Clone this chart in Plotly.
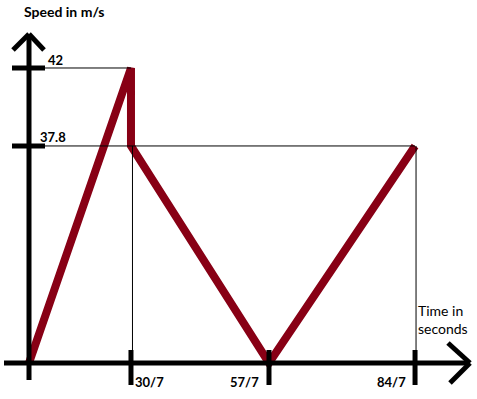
import plotly.graph_objects as go

# ---- data (positions as drawn in the sketch, labels as written) ----
time_pos = [0, 3.17, 3.17, 7.46, 12.0]
speed_pos = [0, 42.0, 30.9, 0, 30.9]
time_tick_pos = [3.17, 7.46, 12.0]
time_tick_labels = ["30/7", "57/7", "84/7"]
speed_tick_pos = [42.0, 30.9]
speed_tick_labels = ["42", "37.8"]

W, H = 477, 399
X0PX, XSC = 29, 32.17      # pixel of x=0, px per unit
Y0PX, YSC = 363, 7.024     # pixel of y=0, px per unit
xr = [(0 - X0PX) / XSC, (W - X0PX) / XSC]
yr = [(Y0PX - H) / YSC, (Y0PX - 0) / YSC]

def dx(px):
    return (px - X0PX) / XSC

def dy(py):
    return (Y0PX - py) / YSC

def pxx(x):
    return X0PX + x * XSC

def pxy(y):
    return Y0PX - y * YSC

fig = go.Figure()
shapes = []
blk = dict(color="black", width=5)
thin = dict(color="black", width=1)

# thin guide lines
peak_i = speed_pos.index(max(speed_pos))
shapes.append(dict(type="line", x0=dx(pxx(0) + 14), x1=time_pos[peak_i], y0=speed_pos[peak_i], y1=speed_pos[peak_i], line=thin))
shapes.append(dict(type="line", x0=dx(pxx(0) + 16), x1=time_pos[-1], y0=speed_pos[-1], y1=speed_pos[-1], line=thin))
shapes.append(dict(type="line", x0=time_tick_pos[0] + dx(pxx(0) + 1.5), x1=time_tick_pos[0] + dx(pxx(0) + 1.5), y0=speed_pos[2], y1=dy(pxy(0) - 12), line=thin))
shapes.append(dict(type="line", x0=time_tick_pos[2] + dx(pxx(0) + 1), x1=time_tick_pos[2] + dx(pxx(0) + 1), y0=speed_pos[4], y1=dy(pxy(0) - 12), line=thin))

# main axes
shapes.append(dict(type="line", x0=0, x1=0, y0=dy(380), y1=dy(34), line=blk))
shapes.append(dict(type="line", x0=dx(4), x1=dx(470), y0=0, y1=0, line=blk))
# arrow heads
shapes.append(dict(type="line", x0=0, x1=dx(13), y0=dy(34), y1=dy(50), line=blk))
shapes.append(dict(type="line", x0=0, x1=dx(44), y0=dy(34), y1=dy(50), line=blk))
shapes.append(dict(type="line", x0=dx(470), x1=dx(448), y0=0, y1=dy(343), line=blk))
shapes.append(dict(type="line", x0=dx(470), x1=dx(450), y0=0, y1=dy(383), line=blk))

# tick marks
for t in time_tick_pos:
    shapes.append(dict(type="line", x0=t, x1=t, y0=dy(350), y1=dy(385), line=blk))
for s in speed_tick_pos:
    shapes.append(dict(type="line", x0=dx(12), x1=dx(45), y0=s, y1=s, line=blk))

fig.add_trace(go.Scatter(
    x=time_pos, y=speed_pos, mode="lines",
    line=dict(color="#880015", width=8),
    hoverinfo="skip", showlegend=False,
))

annos = []
tfont = dict(family="Lato, Open Sans, sans-serif", size=13, color="black")
for t, lab in zip(time_tick_pos, time_tick_labels):
    off = 19 if lab == time_tick_labels[0] else -24
    annos.append(dict(x=dx(pxx(t) + off), y=dy(382), text="<b>" + lab + "</b>", showarrow=False,
                      xanchor="center", yanchor="middle", font=tfont))
annos.append(dict(x=dx(55), y=speed_tick_pos[0], yshift=8, text="<b>" + speed_tick_labels[0] + "</b>",
                  showarrow=False, xanchor="center", yanchor="middle", font=tfont))
annos.append(dict(x=dx(53), y=speed_tick_pos[1], yshift=9, text="<b>" + speed_tick_labels[1] + "</b>",
                  showarrow=False, xanchor="center", yanchor="middle", font=tfont))
annos.append(dict(x=dx(22), y=dy(11), text="<b>Speed in m/s</b>", showarrow=False,
                  xanchor="left", yanchor="middle",
                  font=dict(family="Lato, Open Sans, sans-serif", size=14, color="black")))
annos.append(dict(x=dx(416), y=dy(319), text="Time in<br>seconds", showarrow=False,
                  xanchor="left", yanchor="middle", align="left",
                  font=dict(family="Lato, Open Sans, sans-serif", size=14, color="black")))

fig.update_layout(
    width=W, height=H,
    margin=dict(l=0, r=0, t=0, b=0),
    paper_bgcolor="white", plot_bgcolor="white",
    xaxis=dict(range=xr, visible=False, fixedrange=True),
    yaxis=dict(range=yr, visible=False, fixedrange=True),
    shapes=shapes, annotations=annos,
)
fig.write_html("out.html", config={"displayModeBar": False},
               post_script="document.body.style.margin='0';document.body.style.overflow='hidden';")
